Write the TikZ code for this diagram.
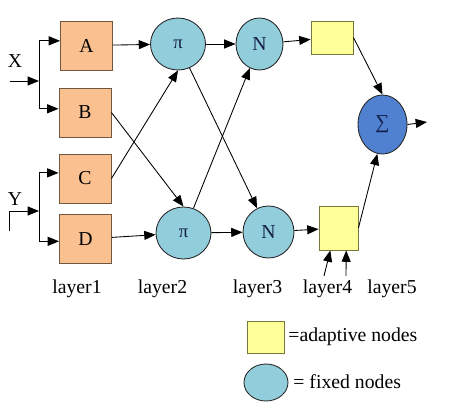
\documentclass[tikz,border=0pt]{standalone}
\usepackage{fontspec}
\setmainfont{Liberation Serif}
\usetikzlibrary{arrows.meta,shapes.geometric}

\definecolor{peach}{RGB}{250,192,144}
\definecolor{peachline}{RGB}{112,88,64}
\definecolor{aqua}{RGB}{146,205,220}
\definecolor{lemon}{RGB}{255,255,153}
\definecolor{lemonline}{RGB}{120,120,60}
\definecolor{sumblue}{RGB}{80,128,208}
\definecolor{navy}{RGB}{20,30,70}

\tikzset{
  inbox/.style={draw=peachline,fill=peach,minimum width=39pt,minimum height=36.75pt,inner sep=0pt},
  fixnode/.style={ellipse,draw=black!85,fill=aqua,inner sep=0pt,text=navy},
  adanode/.style={draw=lemonline,fill=lemon,inner sep=0pt},
  wire/.style={-{Triangle[length=8.5pt,width=6.75pt]}},
}

\begin{document}
\begin{tikzpicture}[x=0.75pt,y=-0.75pt,line width=0.65pt,font=\fontsize{14.8}{17}\selectfont]
  \useasboundingbox (0,0) rectangle (457,410);
  % layer 1: input boxes
  \node[inbox] (A) at (86.5,45.5) {A};
  \node[inbox] (B) at (85,112.5) {B};
  \node[inbox] (C) at (85,178.5) {C};
  \node[inbox] (D) at (85.5,239) {D};
  % layer 2 and 3: fixed nodes
  \node[fixnode,minimum width=41.25pt,minimum height=39pt,font=\fontsize{14}{16}\selectfont] (pi1) at (178,44) {π};
  \node[fixnode,minimum width=41.25pt,minimum height=39pt,font=\fontsize{14}{16}\selectfont] (pi2) at (183.5,233) {π};
  \node[fixnode,minimum width=35.25pt,minimum height=39pt] (N1) at (259.5,44) {N};
  \node[fixnode,minimum width=38.25pt,minimum height=39pt] (N2) at (268.5,232) {N};
  % layer 4: adaptive nodes
  \node[adanode,minimum width=31.5pt,minimum height=24.75pt] (Y1) at (332,37.5) {};
  \node[adanode,minimum width=29.25pt,minimum height=33pt] (Y2) at (338.5,228) {};
  % layer 5: sum
  \node[fixnode,fill=sumblue,minimum width=36.75pt,minimum height=44.25pt] (S) at (382.5,124.5) {∑};

  % inputs
  \node (X) at (15,61) {X};
  \node (Y) at (15,199) {Y};
  \coordinate (xin) at (10,81);
  \coordinate (xj) at (39,81);
  \coordinate (ybot) at (9,231);
  \coordinate (yin) at (9,211);
  \coordinate (yj) at (39,211);
  \draw[wire] (xin) -- (xj);
  \draw[wire] (xj) |- (A.170);
  \draw[wire] (xj) |- (B.172);
  \draw (ybot) -- (yin);
  \draw[wire] (yin) -- (yj);
  \draw[wire] (yj) |- (C.168);
  \draw[wire] (yj) |- (D.-175);

  % connections between layers
  \draw[wire] (A) -- (pi1);
  \draw[wire] (B.east) -- (pi2.north);
  \draw[wire] (C.east) -- (pi1.south);
  \draw[wire] (D) -- (pi2);
  \draw[wire] (pi1) -- (N1);
  \draw[wire] (pi1) -- (N2);
  \draw[wire] (pi2) -- (N1);
  \draw[wire] (pi2) -- (N2);
  \draw[wire] (N1) -- (Y1);
  \draw[wire] (N2) -- (Y2);
  \draw[wire] (Y1.east) -- (S.north);
  \draw[wire] (Y2.east) -- (S.-100);
  \coordinate (in1) at (324,276);
  \coordinate (in2) at (346,276);
  \draw[wire] (in1) -- (Y2.-110);
  \draw[wire] (in2) -- (Y2.-71);
  \coordinate (out) at (427,122);
  \draw[wire] (S.east) -- (out);

  % layer labels
  \foreach \lx/\ln in {77/1,162.5/2,257.5/3,327.5/4,392/5}
    \node (layer\ln) at (\lx,289) {layer\ln};

  % legend
  \node[adanode,minimum width=27.75pt,minimum height=24pt] (keyA) at (265.5,337) {};
  \node[anchor=west,inner sep=0pt] (keyAtext) at (288,336.5) {=adaptive nodes};
  \node[fixnode,minimum width=33pt,minimum height=27.75pt] (keyF) at (266,382.5) {};
  \node[anchor=west,inner sep=0pt] (keyFtext) at (293,381.5) {= fixed nodes};
\end{tikzpicture}
\end{document}
